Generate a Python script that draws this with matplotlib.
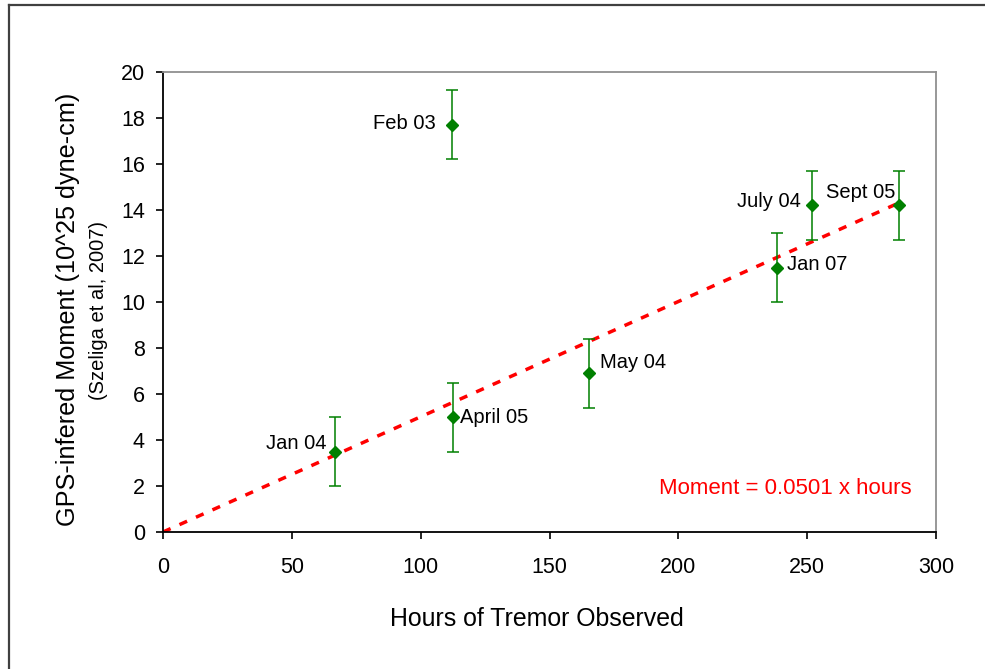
import matplotlib
matplotlib.use("Agg")
import matplotlib.pyplot as plt
from matplotlib.lines import Line2D
import numpy as np

plt.rcParams['font.family'] = ['Liberation Sans', 'DejaVu Sans']

# Data
labels = ["Jan 04", "April 05", "Feb 03", "May 04", "Jan 07", "July 04", "Sept 05"]
hours = [66.7, 112.5, 112.0, 165.3, 238.3, 251.8, 285.6]
moment = [3.5, 5.0, 17.7, 6.9, 11.5, 14.2, 14.2]
moment_err = [1.5, 1.5, 1.5, 1.5, 1.5, 1.5, 1.5]
slope = 0.0501
trend_x = [0, 285]
x_ticks = [0, 50, 100, 150, 200, 250, 300]
y_ticks = [0, 2, 4, 6, 8, 10, 12, 14, 16, 18, 20]

# label offsets in pixels (dx, dy, ha)
offsets = {
    "Jan 04": (-8, 8, 'right'),
    "April 05": (7, 0, 'left'),
    "Feb 03": (-16, 1, 'right'),
    "May 04": (11, 11, 'left'),
    "Jan 07": (10, 3, 'left'),
    "July 04": (-11, 4, 'right'),
    "Sept 05": (-4, 13, 'right'),
}

W, H = 985, 669
fig = plt.figure(figsize=(W / 100, H / 100), dpi=100)
ax = fig.add_axes([163 / W, 1 - 532 / H, (936 - 163) / W, (532 - 72) / H])

tx = np.array(trend_x, dtype=float)
ax.plot(tx, slope * tx, color='#ff0000', lw=2.5, linestyle=(0, (2.4, 2.8)),
        dash_capstyle='butt', zorder=2)

ax.errorbar(hours, moment, yerr=moment_err, fmt='D', color='#008000',
            ecolor='#008000', elinewidth=1.1, capsize=4.6, capthick=1.1,
            markersize=6.5, zorder=3)

for lab, xv, yv in zip(labels, hours, moment):
    dx, dy, ha = offsets[lab]
    ax.annotate(lab, (xv, yv), xytext=(dx * 0.72, dy * 0.72),
                textcoords='offset points', ha=ha, va='center',
                fontsize=14.5, color='black')

ax.text(290.7, 1.87, "Moment = 0.0501 x hours", color='#ff0000',
        fontsize=16, ha='right', va='center')

ax.set_xlim(0, 300)
ax.set_ylim(0, 20)
ax.set_xticks(x_ticks)
ax.set_yticks(y_ticks)
ax.tick_params(axis='both', direction='out', length=5, width=1.2,
               labelsize=15.5, colors='black')
ax.tick_params(axis='x', pad=13)
ax.tick_params(axis='y', pad=8)
for s in ['left', 'bottom']:
    ax.spines[s].set_color('black')
    ax.spines[s].set_linewidth(1.3)
for s in ['top', 'right']:
    ax.spines[s].set_color('#909090')
    ax.spines[s].set_linewidth(1.3)

fig.text(537 / W, 1 - 619 / H, "Hours of Tremor Observed", fontsize=17.9,
         ha='center', va='center')
fig.text(68 / W, 1 - 309 / H, "GPS-infered Moment (10^25 dyne-cm)",
         fontsize=18.2, rotation=90, ha='center', va='center')
fig.text(98 / W, 1 - 311 / H, "(Szeliga et al, 2007)",
         fontsize=14.5, rotation=90, ha='center', va='center')

# outer frame (top and left visible)
fig.add_artist(Line2D([9 / W, 1.0], [1 - 5 / H, 1 - 5 / H],
                      transform=fig.transFigure, color='#404040', lw=1.6))
fig.add_artist(Line2D([9 / W, 9 / W], [0, 1 - 5 / H],
                      transform=fig.transFigure, color='#404040', lw=1.6))

fig.savefig("out.png", dpi=100)
